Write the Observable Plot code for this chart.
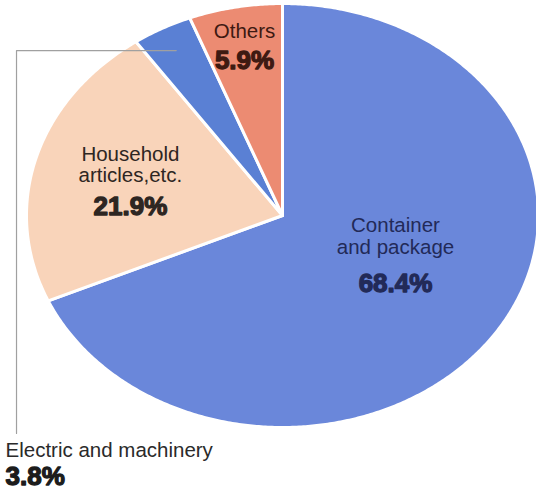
<!DOCTYPE html>
<html>
<head>
<meta charset="utf-8">
<script src="https://cdn.jsdelivr.net/npm/d3@7"></script>
<script src="https://cdn.jsdelivr.net/npm/@observablehq/plot@0.6"></script>
<style>
  html, body { margin: 0; padding: 0; background: #fff; }
  #chart svg { display: block; }
</style>
</head>
<body>
<div id="chart"></div>
<script>
// ---- data ----
const categories = ["Container and package", "Household articles,etc.", "Electric and machinery", "Others"];
const shares = [68.4, 21.9, 3.8, 5.9];
const nameLines = ["Container\nand package", "Household\narticles,etc.", "Electric and machinery", "Others"];
const pctLabels = ["68.4%", "21.9%", "3.8%", "5.9%"];

// ---- styles / layout ----
const sliceColors = ["#6a87da", "#f9d4ba", "#5a80d4", "#ec8b72"];
const labelLayout = {
  "Container and package": {r: 0.527, dyName: -23, dyPct: 15, color: "#222a58"},
  "Household articles,etc.": {r: 0.617, dyName: 2, dyPct: 35, color: "#2e2622"},
  "Others": {r: 0.805, dyName: -10, dyPct: 21, color: "#3e1a12"}
};
const outsideLabel = "Electric and machinery";
const leader = {r: 0.882, cornerX: -1.039, bottomY: 1.028, textX: -1.082};
const nameFont = "'Liberation Sans', Arial, Helvetica, sans-serif";

// ---- geometry from data ----
const total = d3.sum(shares);
const points = [];
const mids = {};
let acc = 0;
categories.forEach((cat, i) => {
  const a0 = acc / total * 2 * Math.PI;
  acc += shares[i];
  const a1 = acc / total * 2 * Math.PI;
  mids[cat] = (a0 + a1) / 2;
  points.push({cat, x: 0, y: 0});
  const n = Math.max(2, Math.ceil((a1 - a0) / (Math.PI / 360)));
  for (let k = 0; k <= n; k++) {
    const a = a0 + (a1 - a0) * k / n;
    points.push({cat, x: Math.sin(a), y: -Math.cos(a)});
  }
  points.push({cat, x: 0, y: 0});
});

const marks = [
  Plot.line(points, {
    x: "x", y: "y", z: "cat", fill: "cat",
    stroke: "white", strokeWidth: 3, strokeLinejoin: "round", curve: "linear"
  })
];

categories.forEach((cat, i) => {
  const L = labelLayout[cat];
  if (!L) return;
  const m = mids[cat];
  const pos = [{x: L.r * Math.sin(m), y: -L.r * Math.cos(m)}];
  marks.push(Plot.text(pos, {
    x: "x", y: "y", text: () => nameLines[i],
    lineAnchor: "bottom", dy: L.dyName, lineHeight: 1.03,
    fontSize: 20.5, fontFamily: nameFont, fill: L.color
  }));
  marks.push(Plot.text(pos, {
    x: "x", y: "y", text: () => pctLabels[i],
    lineAnchor: "bottom", dy: L.dyPct,
    fontSize: 26, fontWeight: "bold", fontFamily: nameFont,
    fill: L.color, stroke: L.color, strokeWidth: 1.3, strokeLinejoin: "round"
  }));
});

// leader line + outside label for the small slice
{
  const i = categories.indexOf(outsideLabel);
  const m = mids[outsideLabel];
  const sy = -leader.r * Math.cos(m);
  const path = [
    {x: leader.r * Math.sin(m), y: sy},
    {x: leader.cornerX, y: sy},
    {x: leader.cornerX, y: leader.bottomY}
  ];
  marks.push(Plot.line(path, {x: "x", y: "y", stroke: "#a0a0a0", strokeWidth: 1.2}));
  const tp = [{x: leader.textX, y: leader.bottomY}];
  marks.push(Plot.text(tp, {
    x: "x", y: "y", text: () => nameLines[i], textAnchor: "start",
    lineAnchor: "bottom", dy: 24, fontSize: 20.5, fontFamily: nameFont, fill: "#2a2a2a"
  }));
  marks.push(Plot.text(tp, {
    x: "x", y: "y", text: () => pctLabels[i], textAnchor: "start",
    lineAnchor: "bottom", dy: 52, fontSize: 26, fontWeight: "bold", fontFamily: nameFont,
    fill: "#1c1c1c", stroke: "#1c1c1c", strokeWidth: 1.3, strokeLinejoin: "round"
  }));
}

const chart = Plot.plot({
  width: 536,
  height: 491,
  margin: 0,
  style: {background: "white", overflow: "visible"},
  x: {domain: [-1, 1], range: [26, 538], axis: null},
  y: {domain: [-1, 1], range: [3, 427], axis: null},
  color: {domain: categories, range: sliceColors},
  marks
});
document.getElementById("chart").appendChild(chart);
</script>
</body>
</html>
